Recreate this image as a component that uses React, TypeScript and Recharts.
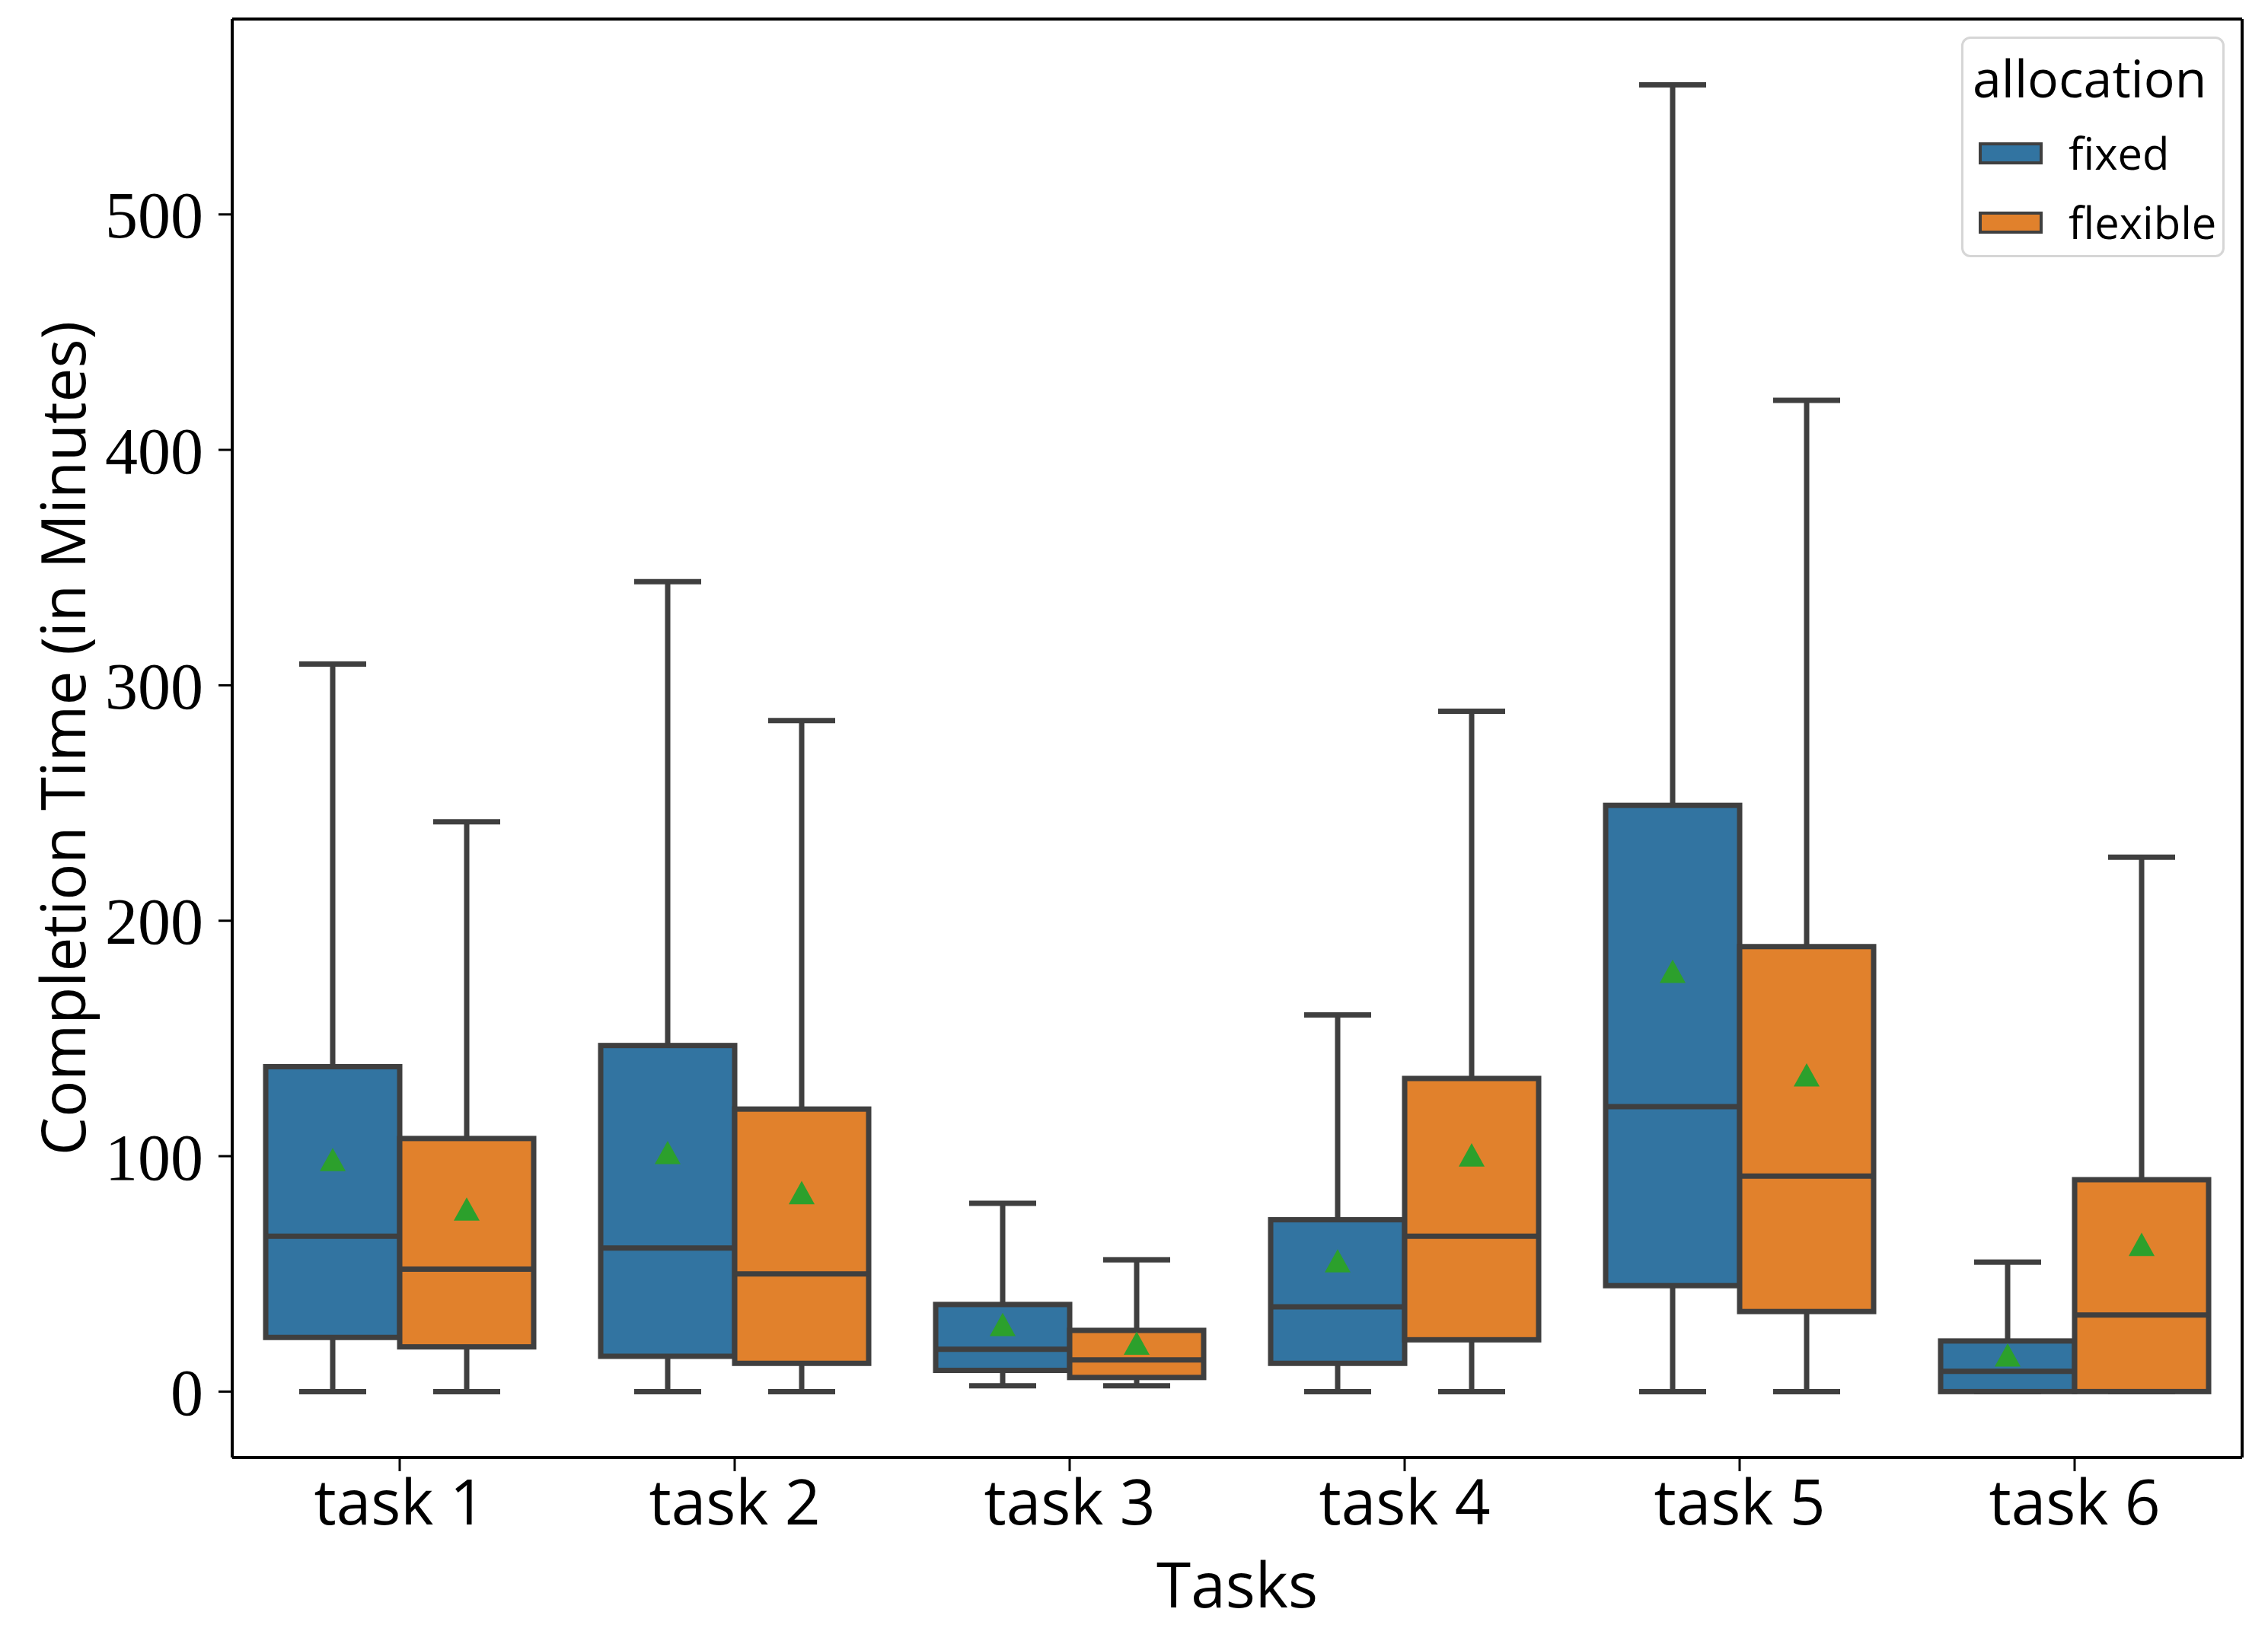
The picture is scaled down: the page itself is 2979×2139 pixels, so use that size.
import React from "react";
import { ComposedChart, Bar, XAxis, YAxis } from "recharts";

const tasks = ["task 1", "task 2", "task 3", "task 4", "task 5", "task 6"];

// fixed allocation (minutes)
const fixedLow = [0, 0, 2.5, 0, 0, 0];
const fixedQ1 = [23, 15, 9, 12, 45, 0];
const fixedMedian = [66, 61, 18, 36, 121, 8.6];
const fixedQ3 = [138, 147, 37, 73, 249, 21.5];
const fixedHigh = [309, 344, 80, 160, 555, 55];
const fixedMean = [98, 101, 28, 55, 178, 15];

// flexible allocation (minutes)
const flexLow = [0, 0, 2.5, 0, 0, 0];
const flexQ1 = [19, 12, 6, 22, 34, 0];
const flexMedian = [52, 50, 13.5, 66, 91.5, 32.5];
const flexQ3 = [107.5, 120, 26, 133, 189, 90];
const flexHigh = [242, 285, 56, 289, 421, 227];
const flexMean = [77, 84, 20, 100, 134, 62];

const yTicks = [0, 100, 200, 300, 400, 500];

const FIXED_COLOR = "#3274a1";
const FLEX_COLOR = "#e1812c";
const LINE = "#3f3f3f";
const MEAN_COLOR = "#2ca02c";

const data = tasks.map((task, i) => ({
  task,
  fixed: [fixedQ1[i], fixedQ3[i]],
  flexible: [flexQ1[i], flexQ3[i]],
  fixedStats: { low: fixedLow[i], q1: fixedQ1[i], med: fixedMedian[i], q3: fixedQ3[i], high: fixedHigh[i], mean: fixedMean[i] },
  flexibleStats: { low: flexLow[i], q1: flexQ1[i], med: flexMedian[i], q3: flexQ3[i], high: flexHigh[i], mean: flexMean[i] },
}));

const SANS = "'Open Sans', 'DejaVu Sans', sans-serif";
const SERIF = "'Liberation Serif', 'DejaVu Serif', serif";
const SW = 7;

function makeBox(key: string, fill: string) {
  return (props: any) => {
    const { x, y, width, height, payload } = props;
    const s = payload[key + "Stats"];
    const top = Math.min(y, y + height);
    const h = Math.abs(height);
    // pixels per minute, taken from the bar the library placed
    const ppu = h / (s.q3 - s.q1);
    const py = (v: number) => top + (s.q3 - v) * ppu;
    const cx = x + width / 2;
    const cap = width / 4;
    const tri = 17;
    const my = py(s.mean);
    return (
      <g>
        <line x1={cx} x2={cx} y1={py(s.high)} y2={top} stroke={LINE} strokeWidth={SW} />
        <line x1={cx} x2={cx} y1={top + h} y2={py(s.low)} stroke={LINE} strokeWidth={SW} />
        <line x1={cx - cap} x2={cx + cap} y1={py(s.high)} y2={py(s.high)} stroke={LINE} strokeWidth={SW} />
        <line x1={cx - cap} x2={cx + cap} y1={py(s.low)} y2={py(s.low)} stroke={LINE} strokeWidth={SW} />
        <rect x={x} y={top} width={width} height={h} fill={fill} stroke={LINE} strokeWidth={SW} />
        <line x1={x} x2={x + width} y1={py(s.med)} y2={py(s.med)} stroke={LINE} strokeWidth={SW} />
        <polygon
          points={`${cx},${my - tri} ${cx - tri},${my + tri * 0.8} ${cx + tri},${my + tri * 0.8}`}
          fill={MEAN_COLOR}
        />
      </g>
    );
  };
}

const LegendRow = ({ color, label, top }: { color: string; label: string; top: number }) => (
  <div style={{ position: "absolute", left: 0, top: top - 46, height: 92, display: "flex", alignItems: "center" }}>
    <div
      style={{
        position: "absolute",
        left: 20,
        width: 84,
        height: 29,
        boxSizing: "border-box",
        background: color,
        border: `4px solid ${LINE}`,
      }}
    />
    <span style={{ position: "absolute", left: 138, fontSize: 58, whiteSpace: "nowrap", lineHeight: "92px", top: 0 }}>
      {label}
    </span>
  </div>
);

export default function App() {
  return (
    <div style={{ position: "absolute", left: 0, top: 0, width: 2979, height: 2139, background: "#fff" }}>
      <ComposedChart
        width={2979}
        height={2139}
        data={data}
        barGap={0}
        barCategoryGap="10%"
        margin={{ top: 24, right: 33, bottom: 0, left: 0 }}
      >
        <XAxis
          dataKey="task"
          height={224}
          axisLine={{ stroke: "#000", strokeWidth: 4 }}
          tickLine={{ stroke: "#000", strokeWidth: 3 }}
          tickSize={18}
          tickMargin={12}
          tick={{ fill: "#000", fontSize: 82, fontFamily: SANS }}
          label={(p: any) => {
            const vb = p.viewBox;
            return (
              <text
                x={vb.x + vb.width / 2}
                y={2080}
                textAnchor="middle"
                dominantBaseline="central"
                fontSize={82}
                fontFamily={SANS}
                fill="#000"
              >
                Tasks
              </text>
            );
          }}
        />
        <XAxis
          xAxisId="top"
          dataKey="task"
          orientation="top"
          height={1}
          tick={false}
          tickLine={false}
          axisLine={{ stroke: "#000", strokeWidth: 4 }}
        />
        <YAxis
          type="number"
          domain={[-28, 583]}
          ticks={yTicks}
          width={305}
          allowDataOverflow
          axisLine={{ stroke: "#000", strokeWidth: 4 }}
          tickLine={{ stroke: "#000", strokeWidth: 3 }}
          tickSize={18}
          tickMargin={20}
          tick={{ fill: "#000", fontSize: 86, fontFamily: SERIF }}
          label={(p: any) => {
            const vb = p.viewBox;
            const cy = vb.y + vb.height / 2;
            return (
              <text
                x={80}
                y={cy}
                transform={`rotate(-90, 80, ${cy})`}
                textAnchor="middle"
                dominantBaseline="central"
                fontSize={80}
                fontFamily={SANS}
                fill="#000"
              >
                Completion Time (in Minutes)
              </text>
            );
          }}
        />
        <YAxis
          yAxisId="right"
          orientation="right"
          type="number"
          domain={[-28, 583]}
          width={1}
          tick={false}
          tickLine={false}
          axisLine={{ stroke: "#000", strokeWidth: 4 }}
        />
        <Bar dataKey="fixed" fill={FIXED_COLOR} isAnimationActive={false} shape={makeBox("fixed", FIXED_COLOR)} />
        <Bar dataKey="flexible" fill={FLEX_COLOR} isAnimationActive={false} shape={makeBox("flexible", FLEX_COLOR)} />
      </ComposedChart>

      <div
        style={{
          position: "absolute",
          left: 2576,
          top: 48,
          width: 346,
          height: 290,
          boxSizing: "border-box",
          border: "3px solid #d6d6d6",
          borderRadius: 12,
          background: "rgba(255,255,255,0.8)",
          fontFamily: SANS,
          color: "#000",
        }}
      >
        <div
          style={{
            position: "absolute",
            left: 12,
            top: 51 - 45,
            height: 90,
            lineHeight: "90px",
            whiteSpace: "nowrap",
            fontSize: 68,
          }}
        >
          allocation
        </div>
        <LegendRow color={FIXED_COLOR} label="fixed" top={150} />
        <LegendRow color={FLEX_COLOR} label="flexible" top={241} />
      </div>
    </div>
  );
}
